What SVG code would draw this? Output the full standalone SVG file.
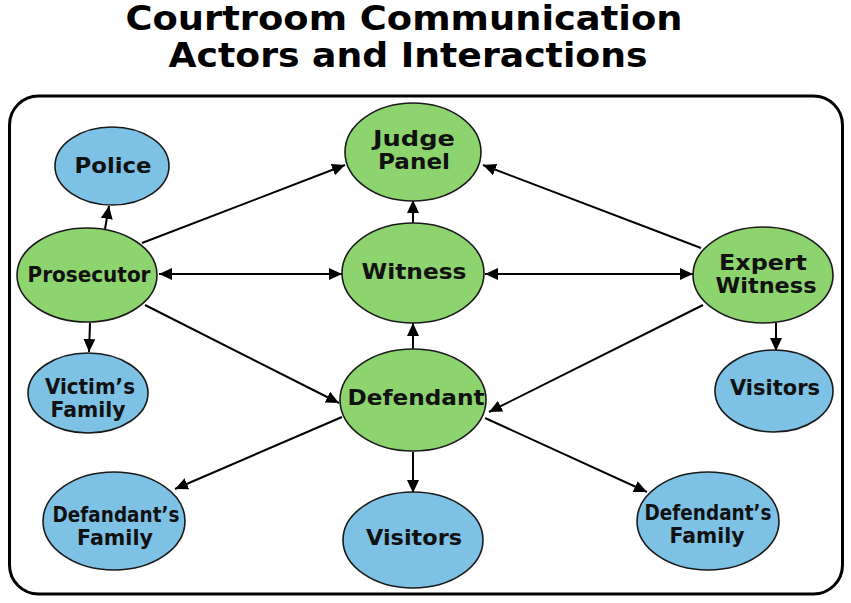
<svg xmlns="http://www.w3.org/2000/svg" width="851" height="603" viewBox="0 0 851 603">
<defs>
<style>
.title{font-family:"DejaVu Sans","Liberation Sans",sans-serif;font-weight:bold;font-size:33px;fill:#000;text-anchor:middle}
.lbl{font-family:"DejaVu Sans","Liberation Sans",sans-serif;font-weight:bold;font-size:20.5px;fill:#111;text-anchor:middle}
.g{fill:#8dd46f;stroke:#1a1a1a;stroke-width:1.6}
.b{fill:#7dc1e5;stroke:#1a1a1a;stroke-width:1.6}
.c{stroke:#000;stroke-width:2;fill:none;marker-end:url(#ah)}
.bi{marker-start:url(#ah)}
</style>
<marker id="ah" markerUnits="userSpaceOnUse" markerWidth="14" markerHeight="12" refX="13" refY="6" orient="auto-start-reverse" viewBox="0 0 14 12">
<path d="M0,0 L13,6 L0,12 Z" fill="#000"/>
</marker>
</defs>
<rect width="851" height="603" fill="#fff"/>
<g id="title">
<text class="title" x="404" y="30" textLength="557" lengthAdjust="spacingAndGlyphs">Courtroom Communication</text>
<text class="title" x="408" y="67" textLength="479" lengthAdjust="spacingAndGlyphs">Actors and Interactions</text>
</g>
<rect id="frame" x="9.5" y="96" width="833" height="498" rx="29" fill="none" stroke="#000" stroke-width="3"/>
<g id="connectors">
<path class="c" d="M105,229 L109,206"/>
<path class="c" d="M142,243 L345,165"/>
<path class="c bi" d="M159,274 L342,274"/>
<path class="c" d="M145,305 L339,403"/>
<path class="c" d="M90,323 L89,352"/>
<path class="c" d="M413,223 L413,200"/>
<path class="c" d="M413,349 L413,323"/>
<path class="c bi" d="M485,274 L693,274"/>
<path class="c" d="M701,248 L483,165"/>
<path class="c" d="M703,305 L489,412"/>
<path class="c" d="M776,323 L776,351"/>
<path class="c" d="M342,417 L175,489"/>
<path class="c" d="M413,452 L413,493"/>
<path class="c" d="M485,418 L647,492"/>
</g>
<g id="judge-panel">
<ellipse class="g" cx="413" cy="152" rx="68" ry="49"/>
<text class="lbl" x="414" y="146" textLength="82" lengthAdjust="spacingAndGlyphs">Judge</text>
<text class="lbl" x="414" y="169" textLength="72" lengthAdjust="spacingAndGlyphs">Panel</text>
</g>
<g id="police">
<ellipse class="b" cx="112" cy="166" rx="57" ry="39"/>
<text class="lbl" x="113" y="173" textLength="77" lengthAdjust="spacingAndGlyphs">Police</text>
</g>
<g id="prosecutor">
<ellipse class="g" cx="87" cy="275" rx="70" ry="47"/>
<text class="lbl" x="89" y="282" textLength="123" lengthAdjust="spacingAndGlyphs">Prosecutor</text>
</g>
<g id="witness">
<ellipse class="g" cx="413" cy="273" rx="71" ry="50"/>
<text class="lbl" x="414" y="279" textLength="105" lengthAdjust="spacingAndGlyphs">Witness</text>
</g>
<g id="expert-witness">
<ellipse class="g" cx="763" cy="275" rx="70" ry="48"/>
<text class="lbl" x="763" y="270" textLength="88" lengthAdjust="spacingAndGlyphs">Expert</text>
<text class="lbl" x="766" y="293" textLength="101" lengthAdjust="spacingAndGlyphs">Witness</text>
</g>
<g id="victims-family">
<ellipse class="b" cx="88" cy="393" rx="60" ry="40"/>
<text class="lbl" x="90" y="394" textLength="90" lengthAdjust="spacingAndGlyphs">Victim’s</text>
<text class="lbl" x="88" y="417" textLength="75" lengthAdjust="spacingAndGlyphs">Family</text>
</g>
<g id="defendant">
<ellipse class="g" cx="413" cy="400" rx="73" ry="51"/>
<text class="lbl" x="416" y="405" textLength="137" lengthAdjust="spacingAndGlyphs">Defendant</text>
</g>
<g id="visitors-right">
<ellipse class="b" cx="774" cy="391" rx="59" ry="41"/>
<text class="lbl" x="775" y="395" textLength="90" lengthAdjust="spacingAndGlyphs">Visitors</text>
</g>
<g id="defandants-family-left">
<ellipse class="b" cx="114" cy="521" rx="71" ry="49"/>
<text class="lbl" x="116" y="522" textLength="127" lengthAdjust="spacingAndGlyphs">Defandant’s</text>
<text class="lbl" x="115" y="545" textLength="76" lengthAdjust="spacingAndGlyphs">Family</text>
</g>
<g id="visitors-bottom">
<ellipse class="b" cx="413" cy="540" rx="70" ry="48"/>
<text class="lbl" x="414" y="545" textLength="96" lengthAdjust="spacingAndGlyphs">Visitors</text>
</g>
<g id="defendants-family-right">
<ellipse class="b" cx="708" cy="521" rx="71" ry="49"/>
<text class="lbl" x="708" y="520" textLength="127" lengthAdjust="spacingAndGlyphs">Defendant’s</text>
<text class="lbl" x="707" y="543" textLength="75" lengthAdjust="spacingAndGlyphs">Family</text>
</g>
</svg>
